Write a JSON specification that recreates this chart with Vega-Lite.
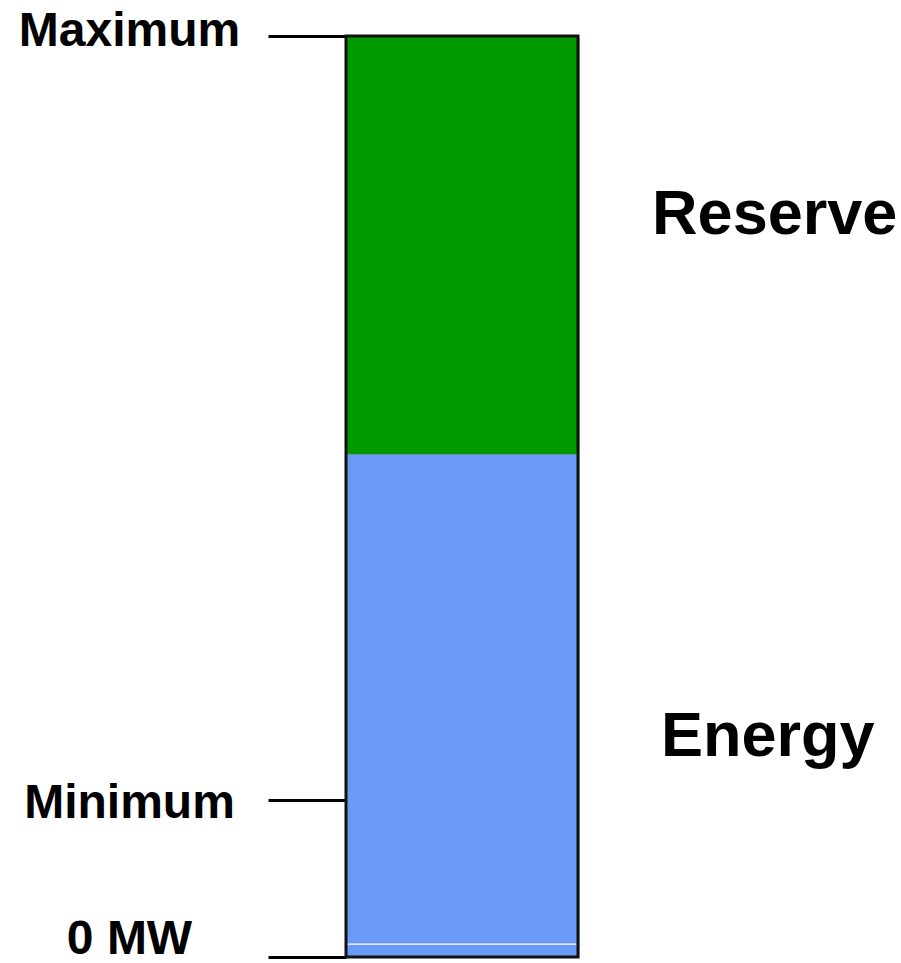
{
  "$schema": "https://vega.github.io/schema/vega-lite/v6.json",
  "width": 232,
  "height": 921,
  "autosize": {"type": "none"},
  "padding": {"left": 346, "top": 36, "right": 323, "bottom": 6},
  "background": "white",
  "config": {
    "view": {"stroke": null},
    "font": "Liberation Sans"
  },
  "datasets": {
    "segments": [
      {"segment": "Energy", "lo": 0, "hi": 54.6},
      {"segment": "Reserve", "lo": 54.6, "hi": 100}
    ],
    "separators": [
      {"level": 1.4}
    ],
    "outline": [
      {"lo": 0, "hi": 100}
    ]
  },
  "layer": [
    {
      "data": {"name": "outline"},
      "mark": {"type": "rect", "color": "#9a9a9a", "xOffset": 1.5, "yOffset": 1.5},
      "encoding": {
        "y": {"field": "hi", "type": "quantitative", "axis": null},
        "y2": {"field": "lo"}
      }
    },
    {
      "data": {"name": "segments"},
      "mark": {"type": "rect"},
      "encoding": {
        "y": {
          "field": "hi",
          "type": "quantitative",
          "scale": {"domain": [0, 100], "nice": false, "zero": true},
          "axis": {
            "orient": "left",
            "title": null,
            "values": [0, 17, 100],
            "labelExpr": "datum.value == 100 ? 'Maximum' : datum.value == 17 ? 'Minimum' : '0 MW'",
            "domain": false,
            "grid": false,
            "ticks": true,
            "tickSize": 78,
            "tickWidth": 3,
            "tickColor": "black",
            "labelFont": "Liberation Sans",
            "labelFontSize": 48,
            "labelFontWeight": "bold",
            "labelColor": "black",
            "labelAlign": "center",
            "labelBaseline": "alphabetic",
            "labelPadding": 139,
            "labelOffset": {
              "condition": [
                {"test": "datum.value == 100", "value": 9},
                {"test": "datum.value == 17", "value": 17.5}
              ],
              "value": -4
            },
            "labelLimit": 0,
            "labelFlush": false,
            "labelOverlap": false,
            "labelBound": false
          }
        },
        "y2": {"field": "lo"},
        "color": {
          "field": "segment",
          "type": "nominal",
          "scale": {"domain": ["Reserve", "Energy"], "range": ["#009900", "#6B9AF6"]},
          "legend": null
        }
      }
    },
    {
      "data": {"name": "separators"},
      "mark": {"type": "rule", "color": "white", "strokeWidth": 1.2},
      "encoding": {
        "y": {"field": "level", "type": "quantitative", "axis": null}
      }
    },
    {
      "data": {"name": "outline"},
      "mark": {"type": "rect", "filled": false, "stroke": "#111111", "strokeWidth": 3},
      "encoding": {
        "y": {
          "field": "hi",
          "type": "quantitative",
          "axis": {
            "orient": "right",
            "title": null,
            "values": [21.93, 78.61],
            "labelExpr": "datum.value > 50 ? 'Reserve' : 'Energy'",
            "domain": false,
            "grid": false,
            "ticks": false,
            "tickSize": 0,
            "labelFont": "Liberation Sans",
            "labelFontSize": 63,
            "labelFontWeight": "bold",
            "labelColor": "black",
            "labelAlign": "left",
            "labelBaseline": "alphabetic",
            "labelPadding": {
              "condition": {"test": "datum.value > 50", "value": 73.6},
              "value": 82.4
            },
            "labelLimit": 0,
            "labelFlush": false,
            "labelOverlap": false,
            "labelBound": false
          }
        },
        "y2": {"field": "lo"}
      }
    }
  ],
  "resolve": {"axis": {"y": "independent"}}
}
